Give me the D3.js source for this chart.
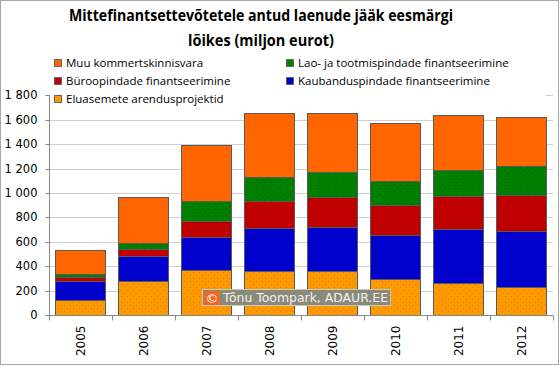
<!DOCTYPE html>
<html><head><meta charset="utf-8">
<script src="https://cdn.jsdelivr.net/npm/d3@7"></script>
<style>body{margin:0;background:#fff}svg{display:block}</style>
</head><body><svg id="c" width="560" height="366"></svg>
<script>
const years = ["2005","2006","2007","2008","2009","2010","2011","2012"];
const eluasemete = [123, 281, 369, 358, 358, 295, 260, 232];
const kaubandus  = [156, 203, 270, 353, 366, 361, 442, 457];
const buroo      = [35, 55, 129, 223, 241, 243, 273, 292];
const lao        = [25, 54, 166, 197, 205, 199, 214, 240];
const muu        = [191, 374, 459, 522, 488, 473, 448, 405];
const yTicks = [0,200,400,600,800,1000,1200,1400,1600,1800];
const seriesNames = ["Eluasemete arendusprojektid","Kaubanduspindade finantseerimine","Büroopindade finantseerimine","Lao- ja tootmispindade  finantseerimine","Muu kommertskinnisvara"];
const seriesKeys = ["elu","kaub","buroo","lao","muu"];
const colors = {elu:"#FF9900",kaub:"#0000CC",buroo:"#C00000",lao:"#008000",muu:"#FF6600"};
const fills = {elu:"url(#dotElu)",kaub:"#0000CC",buroo:"#C00000",lao:"url(#dotLao)",muu:"#FF6600"};

const rows = years.map((y,i)=>({year:y,elu:eluasemete[i],kaub:kaubandus[i],buroo:buroo[i],lao:lao[i],muu:muu[i]}));
const svg = d3.select("#c");
const defs = svg.append("defs");
function dotPattern(id, bg, dot){
  const p = defs.append("pattern").attr("id",id).attr("patternUnits","userSpaceOnUse").attr("width",6).attr("height",6);
  p.append("rect").attr("width",6).attr("height",6).attr("fill",bg);
  p.append("rect").attr("x",1).attr("y",2).attr("width",1).attr("height",1).attr("fill",dot);
  p.append("rect").attr("x",4).attr("y",5).attr("width",1).attr("height",1).attr("fill",dot);
}
dotPattern("dotElu","#FF9900","#D98200");
dotPattern("dotLao","#008000","#006400");

svg.append("rect").attr("x",0.5).attr("y",0.5).attr("width",558).attr("height",364).attr("fill","#fff").attr("stroke","#a6a6a6");

const x = d3.scaleBand().domain(years).range([49,553]).paddingInner(0.206).paddingOuter(0.103);
const y = d3.scaleLinear().domain([0,1800]).range([315,95.4]);

// gridlines
svg.append("g").selectAll("line").data(yTicks.filter(d=>d>0)).join("line")
  .attr("x1",49).attr("x2",553).attr("y1",d=>Math.round(y(d))+0.5).attr("y2",d=>Math.round(y(d))+0.5)
  .attr("stroke","#d0d0d0");

// y axis
const ya = svg.append("g").attr("transform","translate(49.5,0.5)")
  .call(d3.axisLeft(y).tickValues(yTicks).tickSize(4).tickPadding(8).tickFormat(d=>d3.format(",")(d).replace(/,/g," ")));
ya.select(".domain").attr("stroke","#888").attr("d","M-4,"+Math.round(y(1800))+"H0V"+Math.round(y(0)));
ya.selectAll(".tick line").attr("stroke","#888");
ya.selectAll(".tick text").attr("font-family","DejaVu Sans").attr("font-size","11.5px").attr("fill","#000");
ya.selectAll(".tick").attr("transform",d=>"translate(0,"+Math.round(y(d))+")");

// stacked bars
const stack = d3.stack().keys(seriesKeys)(rows);
svg.append("g").selectAll("g").data(stack).join("g")
  .attr("fill",d=>fills[d.key])
  .selectAll("rect").data(d=>d).join("rect")
  .attr("x",d=>Math.round(x(d.data.year))+0.5)
  .attr("width",Math.round(x.bandwidth()))
  .attr("y",d=>Math.round(y(d[1]))+0.5)
  .attr("height",d=>Math.round(y(d[0]))-Math.round(y(d[1])))
  .attr("stroke","#5a5a5a").attr("stroke-width",1);

// x axis
const xa = svg.append("g").attr("transform","translate(0,315.5)");
xa.append("line").attr("x1",49).attr("x2",553).attr("stroke","#888");
const bounds = years.map(yv=>x(yv)-x.step()*x.paddingInner()/2).concat([553]);
xa.selectAll("line.t").data(bounds).join("line").attr("class","t")
  .attr("x1",d=>Math.round(d)+0.5).attr("x2",d=>Math.round(d)+0.5).attr("y1",0).attr("y2",5).attr("stroke","#888");
xa.selectAll("text").data(years).join("text")
  .attr("transform",d=>"translate("+(x(d)+x.bandwidth()/2+4)+",10) rotate(-90)")
  .attr("text-anchor","end").attr("font-family","DejaVu Sans").attr("font-size","12px").attr("fill","#000")
  .text(d=>d);

// title
const title = svg.append("text").attr("text-anchor","middle").attr("font-family","Open Sans, sans-serif").attr("font-weight","bold").attr("font-size","15.5px").attr("fill","#000");
title.append("tspan").attr("x",261).attr("y",21).attr("textLength",384).attr("lengthAdjust","spacingAndGlyphs").text("Mittefinantsettevõtetele antud laenude jääk eesmärgi");
title.append("tspan").attr("x",261).attr("y",46).attr("textLength",146).attr("lengthAdjust","spacingAndGlyphs").text("lõikes (miljon eurot)");

// legend
svg.append("rect").attr("x",50).attr("y",54).attr("width",496).attr("height",43).attr("fill","#fff");
const legendItems = [
  {key:"muu",name:seriesNames[4],x:54,y:63},
  {key:"buroo",name:seriesNames[2],x:54,y:81},
  {key:"elu",name:seriesNames[0],x:54,y:99},
  {key:"lao",name:seriesNames[3],x:286,y:63},
  {key:"kaub",name:seriesNames[1],x:286,y:81}
];
const lg = svg.append("g").selectAll("g").data(legendItems).join("g")
  .attr("transform",d=>"translate("+d.x+","+d.y+")");
lg.append("rect").attr("x",0.5).attr("y",-3.5).attr("width",7).attr("height",7).attr("fill",d=>colors[d.key]).attr("stroke","#666");
lg.append("text").attr("x",12).attr("y",4).attr("font-family","Open Sans, sans-serif").attr("font-size","11.5px").attr("fill","#000").text(d=>d.name);

// watermark
const wm = svg.append("g").attr("transform","translate(202,289)");
wm.append("rect").attr("x",0.5).attr("y",0.5).attr("width",188).attr("height",16).attr("fill","#8a8a7c").attr("stroke","#c8c8bc");
wm.append("rect").attr("x",2).attr("y",2).attr("width",16).attr("height",14).attr("fill","#F26522");
wm.append("text").attr("x",10).attr("y",13.5).attr("text-anchor","middle").attr("font-family","DejaVu Sans").attr("font-size","13px").attr("fill","#fff").text("©");
wm.append("text").attr("x",21).attr("y",13).attr("font-family","DejaVu Sans").attr("font-size","12px").attr("fill","#f2f2ea").attr("textLength",165).attr("lengthAdjust","spacingAndGlyphs").text("Tõnu Toompark, ADAUR.EE");
</script></body></html>
